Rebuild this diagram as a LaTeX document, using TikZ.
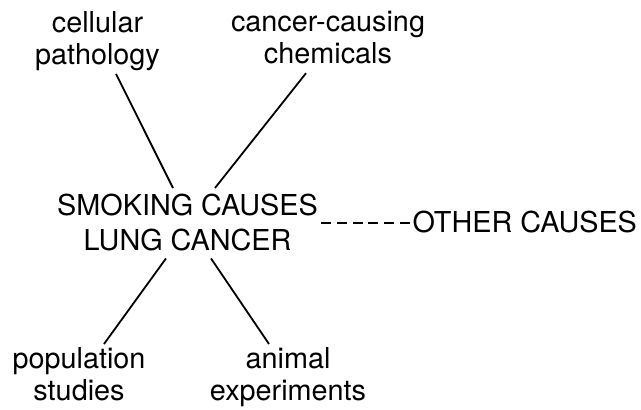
\documentclass[tikz,border=0pt]{standalone}
\usepackage{fontspec}
\setmainfont{TeX Gyre Heros}
\begin{document}
\begin{tikzpicture}[x=1pt,y=-1pt,
  lbl/.style={inner sep=0pt, align=center, font=\fontsize{28.8}{32}\selectfont},
  mainlbl/.style={inner sep=0pt, align=center, font=\fontsize{28.8}{35}\selectfont},
  conn/.style={line width=1.8pt},
  dashconn/.style={line width=1.8pt, dash pattern=on 10pt off 5.8pt}]
\useasboundingbox[fill=white] (0,0) rectangle (641,410);
\node[lbl, anchor=north] (cell) at (97.5,11.3) {cellular\\pathology};
\node[lbl, anchor=north] (chem) at (328,11) {cancer-causing\\chemicals};
\node[mainlbl, anchor=north] (main) at (187.5,194) {SMOKING CAUSES\\LUNG CANCER};
\node[lbl, anchor=north] (pop) at (79,347.6) {population\\studies};
\node[lbl, anchor=north] (anim) at (288,347.6) {animal\\experiments};
\node[lbl, anchor=base west] (other) at (412.5,232) {OTHER CAUSES};
\draw[conn] ([shift={(18.5,3)}]cell.south) -- ([shift={(-14.5,-6)}]main.north);
\draw[conn] ([shift={(-22,9)}]chem.south) -- ([shift={(27.5,-6)}]main.north);
\draw[conn] ([shift={(-21.5,7)}]main.south) -- ([shift={(25,-3.6)}]pop.north);
\draw[conn] ([shift={(23.5,7)}]main.south) -- ([shift={(-19,-3.6)}]anim.north);
\draw[dashconn] ([xshift=3pt]main.east) -- (main.east -| other.west);
\end{tikzpicture}
\end{document}
